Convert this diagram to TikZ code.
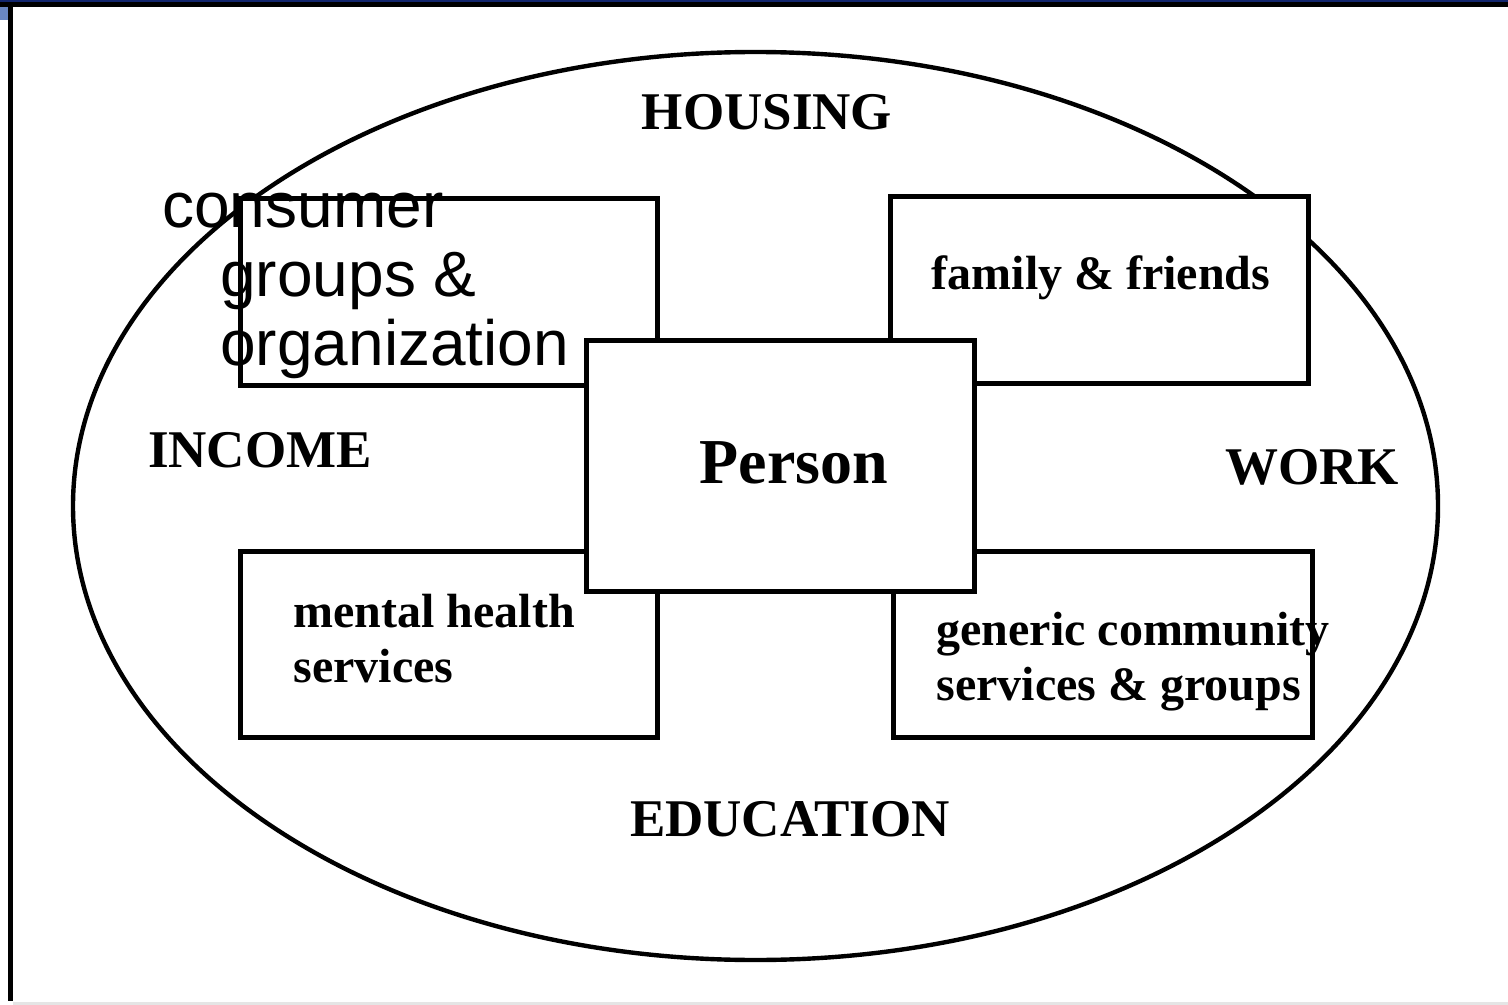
\documentclass[tikz,border=0pt]{standalone}
\usepackage{fontspec}
\setmainfont{Liberation Serif}
\newfontfamily\arialfont{Liberation Sans}
\usetikzlibrary{shapes.geometric,
    positioning}

\definecolor{topnavy}{RGB}{18,38,110}
\definecolor{tabblue}{RGB}{105,135,195}

\begin{document}
\begin{tikzpicture}[x=0.5pt, y=-0.5pt,
                  area/.style = {font=\fontsize{26.5}{30}\selectfont\bfseries, anchor=base, inner sep=0pt},
                  svcbox/.style = {draw, fill=white, line width=2.5pt, inner sep=0pt,
                                   minimum width=#1, minimum height=93pt},
                  svctext/.style = {font=\fontsize{24}{27.5}\selectfont\bfseries, align=left, inner sep=0pt},
                  sanstext/.style = {font=\arialfont\fontsize{32}{34.5}\selectfont, align=left, inner sep=0pt, anchor=base west}
                  ]
\useasboundingbox (0,0) rectangle (1508,1005);
% slide frame
\fill[topnavy] (0,0) rectangle (1508,2.5);
\fill[black] (0,2.5) rectangle (1508,7);
\fill[tabblue] (0,7) rectangle (8,20);
\fill[black] (8,2.5) rectangle (13,1001);
\fill[gray!20] (13,1002) rectangle (1508,1005);
% life domains
\node (life) [ellipse, draw, line width=2.2pt, inner sep=0pt,
              minimum width=682.5pt, minimum height=454pt] at (755.5,506) {};
\foreach \name/\x/\y/\txt in {housing/767/130/HOUSING, income/260/467/INCOME,
                               work/1312/484/WORK, education/790/836/EDUCATION}
    \node (\name) [area] at (\x,\y) {\txt};
% supports
\node (consumer) [svcbox=208.5pt] at (448.5,292) {};
\node (family)   [svcbox=209pt]   at (1099,290) {};
\node (mental)   [svcbox=208.5pt] at (448.5,644.5) {};
\node (generic)  [svcbox=209.5pt] at (1102.5,644.5) {};
\node (person) [draw, fill=white, line width=2.5pt, inner sep=0pt,
                minimum width=194pt, minimum height=125pt] at (780,466) {};
\node (personText) [font=\fontsize{32}{36}\selectfont\bfseries, anchor=base, inner sep=0pt]
    at (794,483) {Person};
\node (familyText) [svctext, anchor=base] at (1101,290) {family \& friends};
% base of a two-line node sits on its last line
\node (mentalText) [svctext, anchor=base west] at (293,682) {mental health\\services};
\node (genericText) [svctext, anchor=base west] at (936,700) {generic community\\services \& groups};
\node (consumerTop) [sanstext] at (162,228) {consumer};
\node (consumerRest) [sanstext] at (220,365) {groups \&\\organization};
\end{tikzpicture}
\end{document}
